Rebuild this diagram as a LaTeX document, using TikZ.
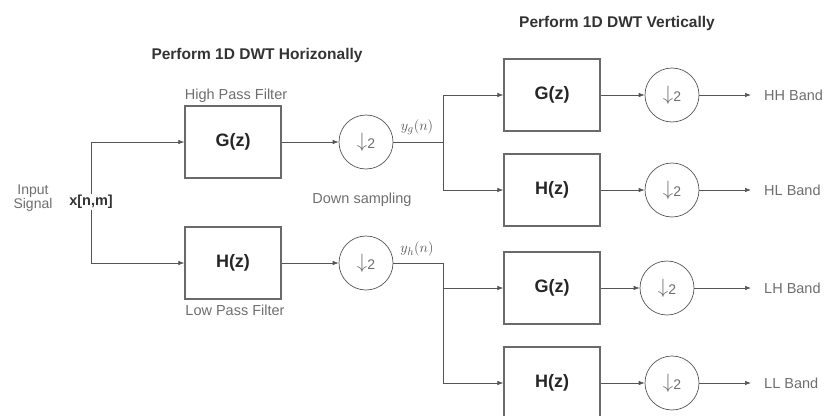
\documentclass[tikz,border=0pt]{standalone}
\usepackage{fontspec}
\setmainfont{Liberation Sans}
\usetikzlibrary{arrows.meta}

\definecolor{inkgray}{HTML}{555555}
\definecolor{boxgray}{HTML}{6A6A6A}
\definecolor{txtgray}{HTML}{6E6E6E}

\newcommand{\dsym}{{\fontsize{20}{20}\selectfont$\downarrow$}\raisebox{-1.5pt}{\fontsize{14}{14}\selectfont 2}}

\begin{document}
\begin{tikzpicture}[
    x=1pt, y=-1pt,
    filt/.style={draw=boxgray, line width=1.3pt, minimum width=96pt,
                 minimum height=72pt, inner sep=0pt,
                 font=\fontsize{18}{18}\selectfont\bfseries, text=black!85},
    down/.style={circle, draw=inkgray, line width=0.7pt, minimum size=54pt,
                 inner sep=0pt, font=\fontsize{15}{15}\selectfont, text=txtgray},
    wire/.style={draw=inkgray, line width=0.7pt},
    flow/.style={wire, -{Latex[length=6pt,width=4.5pt]}},
    note/.style={font=\fontsize{14.5}{14.5}\selectfont, text=txtgray},
    head/.style={font=\fontsize{15.5}{15.5}\selectfont\bfseries, text=black!80},
    band/.style={note, anchor=west, inner sep=1pt}
  ]
  \useasboundingbox (0,0) rectangle (827,415);

  \node[head] (th) at (257,55) {Perform 1D DWT Horizonally};
  \node[head] (tv) at (617,23) {Perform 1D DWT Vertically};

  % input
  \node[note, align=center, font=\fontsize{14}{11}\selectfont] (inp) at (33,198) {Input\\Signal};
  \node[font=\fontsize{14.5}{14.5}\selectfont\bfseries, text=black!80, inner sep=1pt] (xin) at (91,202) {x[n,m]};

  % horizontal stage
  \node[filt] (g1) at (233,142) {G(z)};
  \node[filt] (h1) at (233,263) {H(z)};
  \node[note] (hp) at (236,96) {High Pass Filter};
  \node[note] (lp) at (235,310) {Low Pass Filter};
  \node[down] (d1) at (366,142) {\dsym};
  \node[down] (d2) at (366,263) {\dsym};
  \node[note] (ds) at (362,200) {Down sampling};
  \node[font=\fontsize{15}{15}\selectfont, text=inkgray] (yg) at (417,127) {$y_g(n)$};
  \node[font=\fontsize{15}{15}\selectfont, text=inkgray] (yh) at (417,249) {$y_h(n)$};
  \coordinate (j1) at (443,142);
  \coordinate (j2) at (443,263);

  % vertical stage
  \node[filt] (g2) at (552,95)  {G(z)};
  \node[filt] (h2) at (552,190) {H(z)};
  \node[filt] (g3) at (552,288) {G(z)};
  \node[filt] (h4) at (552,383) {H(z)};
  \node[down] (c1) at (672,95)  {\dsym};
  \node[down] (c2) at (672,190) {\dsym};
  \node[down] (c3) at (667,288) {\dsym};
  \node[down] (c4) at (672,383) {\dsym};
  \node[band] (hh) at (763,95)  {HH Band};
  \node[band] (hl) at (763,190) {HL Band};
  \node[band] (lh) at (763,288) {LH Band};
  \node[band] (ll) at (763,383) {LL Band};

  \draw[flow] (xin.north) |- (g1.west);
  \draw[flow] (xin.south) |- (h1.west);
  \draw[flow] (g1) -- (d1);
  \draw[flow] (h1) -- (d2);
  \draw[wire] (d1) -- (j1);
  \draw[wire] (d2) -- (j2);
  \draw[flow] (j1) |- (g2.west);
  \draw[flow] (j1) |- (h2.west);
  \draw[flow] (j2) |- (g3.west);
  \draw[flow] (j2) |- (h4.west);

  \foreach \b/\c/\o in {g2/c1/hh, h2/c2/hl, g3/c3/lh, h4/c4/ll} {
    \draw[flow] (\b) -- (\c);
    \draw[flow, shorten >=12pt] (\c) -- (\o.west);
  }

\end{tikzpicture}
\end{document}
